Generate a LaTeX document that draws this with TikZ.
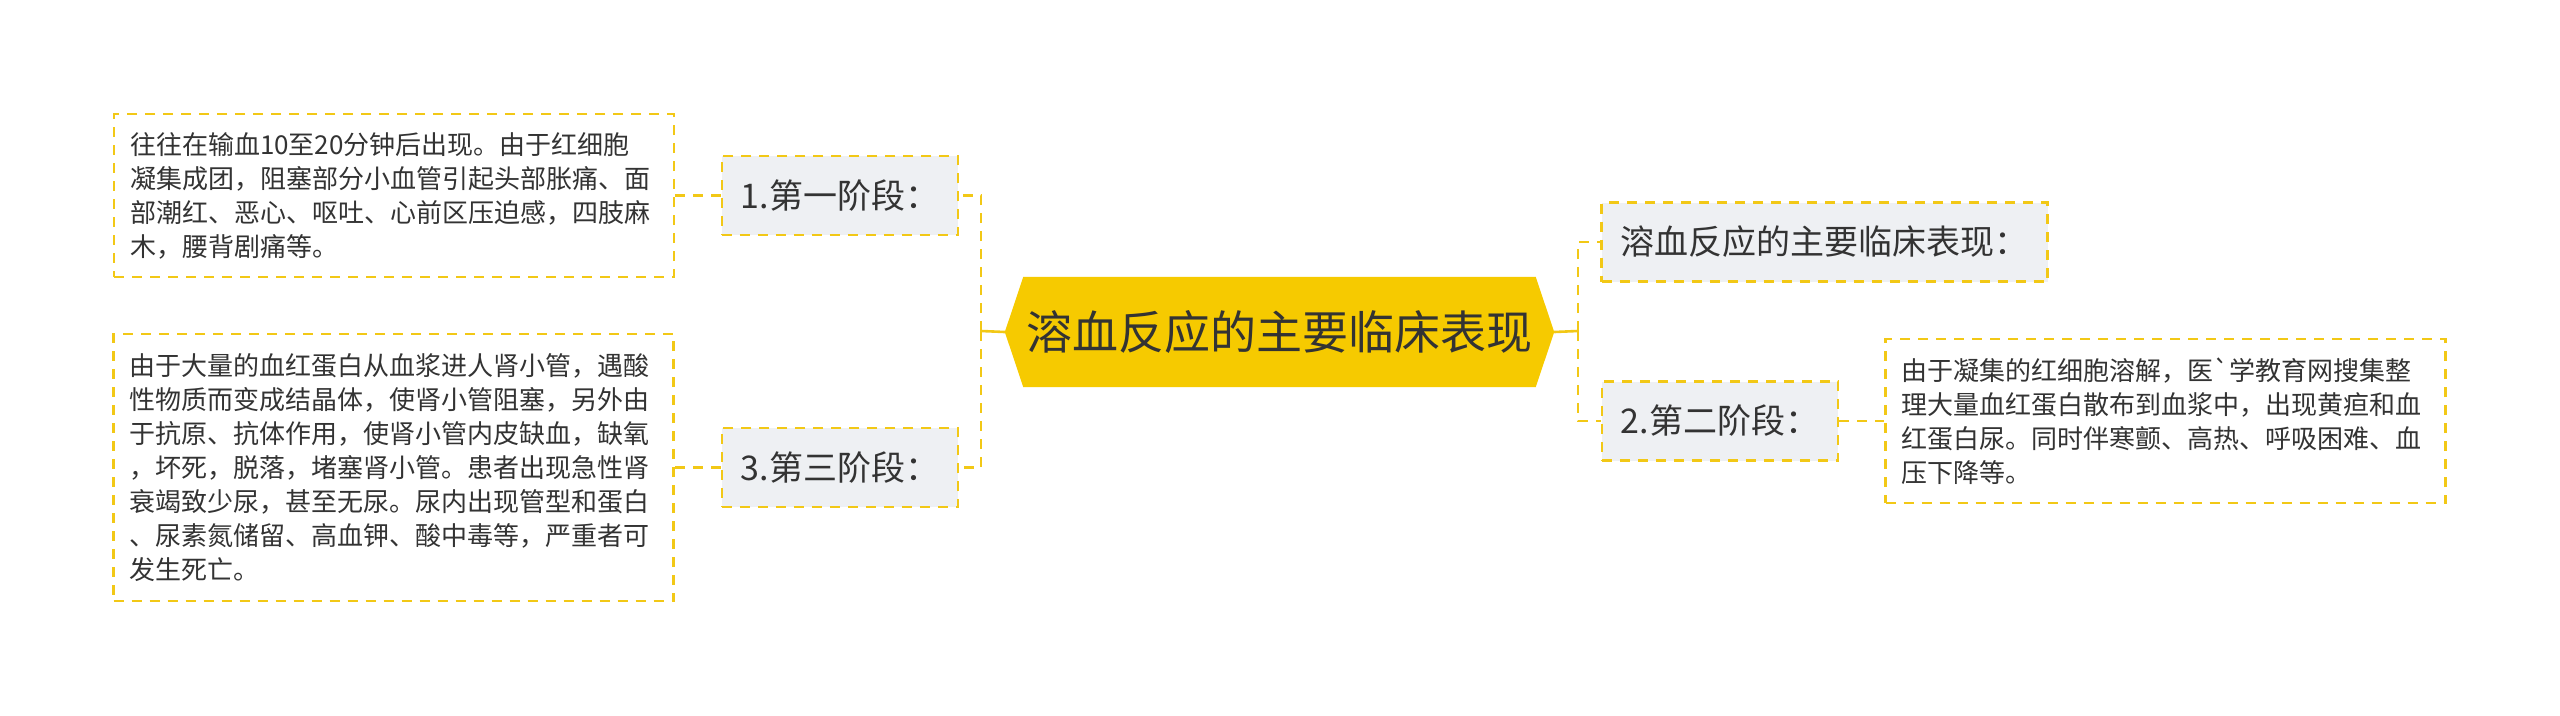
\documentclass[tikz,border=0pt]{standalone}
\usepackage{fontspec}
\newfontfamily\cjk{Noto Sans CJK SC}
\usetikzlibrary{backgrounds}
\definecolor{ylw}{RGB}{242,200,22}
\definecolor{hexfill}{RGB}{246,202,0}
\definecolor{boxfill}{RGB}{238,240,243}
\definecolor{txt}{RGB}{51,51,51}
\tikzset{
  dashline/.style={draw=ylw, line width=2.6pt, dash pattern=on 10pt off 8pt},
  stubline/.style={draw=ylw, line width=2.6pt},
  midbox/.style={dashline, fill=boxfill, text=txt, font=\cjk\fontsize{34}{40}\selectfont,
    inner xsep=19pt, inner ysep=0pt, minimum height=79pt},
  leafbox/.style={dashline, fill=white, text=txt, font=\cjk\fontsize{26}{34}\selectfont,
    align=left, text width=528pt, inner xsep=16pt, inner ysep=0pt},
  rootnode/.style={text=txt, font=\cjk\fontsize{46}{50}\selectfont,
    minimum width=512pt, minimum height=110pt, inner sep=0pt},
}
\begin{document}
\begin{tikzpicture}[x=1pt,y=-1pt]
\useasboundingbox (0,0) rectangle (2560,715);

% root
\node[rootnode] (c) at (1279.5,332) {溶血反应的主要临床表现};
\coordinate (cl) at ([xshift=-18.5pt]c.west);
\coordinate (cr) at ([xshift=18.5pt]c.east);
\begin{scope}[on background layer]
  \fill[white] (0,0) rectangle (2560,715);
  \fill[hexfill] (c.north west) -- (c.north east) -- (cr) -- (c.south east) -- (c.south west) -- (cl) -- cycle;
\end{scope}

% middle boxes
\node[midbox, minimum width=234pt] (b1) at (840,195.5) {1.第一阶段：};
\node[midbox, minimum width=234pt] (b3) at (840,467.5) {3.第三阶段：};
\node[midbox, minimum width=443pt] (r1) at (1824.5,242) {溶血反应的主要临床表现：};
\node[midbox, minimum width=234pt] (r2) at (1720,421) {2.第二阶段：};

% leaves
\node[leafbox, minimum height=163pt] (l1) at (394,195.5) {往往在输血10至20分钟后出现。由于红细胞\\凝集成团，阻塞部分小血管引起头部胀痛、面\\部潮红、恶心、呕吐、心前区压迫感，四肢麻\\木，腰背剧痛等。};
\node[leafbox, minimum height=267pt] (l3) at (393.5,467.5) {由于大量的血红蛋白从血浆进人肾小管，遇酸\\性物质而变成结晶体，使肾小管阻塞，另外由\\于抗原、抗体作用，使肾小管内皮缺血，缺氧\\，坏死，脱落，堵塞肾小管。患者出现急性肾\\衰竭致少尿，甚至无尿。尿内出现管型和蛋白\\、尿素氮储留、高血钾、酸中毒等，严重者可\\发生死亡。};
\node[leafbox, minimum height=164pt] (l2) at (2165.5,421) {由于凝集的红细胞溶解，医`学教育网搜集整\\理大量血红蛋白散布到血浆中，出现黄疸和血\\红蛋白尿。同时伴寒颤、高热、呼吸困难、血\\压下降等。};

% connectors
\coordinate (jl) at (981,331);
\coordinate (jr) at (1578,331);
\draw[stubline] (cl) -- (jl);
\draw[stubline] (cr) -- (jr);
\draw[dashline] (jl) |- (b1.east);
\draw[dashline] (jl) |- (b3.east);
\draw[dashline] (jr) |- (r1.west);
\draw[dashline] (jr) |- (r2.west);
\draw[dashline] (b1.west) -- (l1.east);
\draw[dashline] (b3.west) -- (l3.east);
\draw[dashline] (r2.east) -- (l2.west);
\end{tikzpicture}
\end{document}
